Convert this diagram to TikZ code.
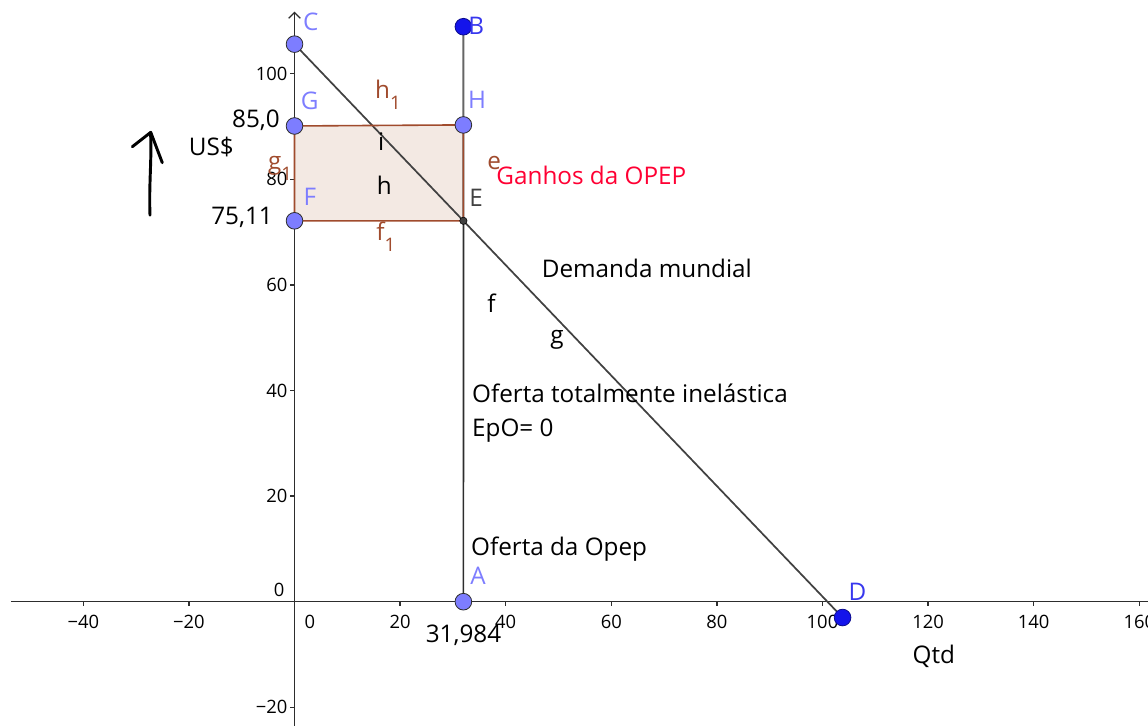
\documentclass[tikz,border=0pt]{standalone}
\usepackage{fontspec}
\setmainfont{Open Sans}
\usetikzlibrary{calc}
\definecolor{axisGray}{RGB}{45,45,45}
\definecolor{lineGray}{RGB}{65,65,65}
\definecolor{ptLight}{RGB}{125,125,255}
\definecolor{ptDark}{RGB}{20,20,235}
\definecolor{rectBrown}{RGB}{160,75,45}
\definecolor{rectFill}{RGB}{243,233,227}
\definecolor{gainRed}{RGB}{255,0,51}
\newcommand{\tickFont}[0]{\fontsize{13.8}{15}\selectfont}
\newcommand{\labFont}[0]{\fontsize{18.2}{21}\selectfont}
\newcommand{\idx}[2]{#1\raisebox{-0.45em}{\fontsize{14}{15}\selectfont #2}}
\newcommand{\tickNum}[1]{\ifnum#1<0 \textminus\number-#1\else#1\fi}

\begin{document}
\begin{tikzpicture}[x=3.96pt, y=3.96pt]
  \tikzset{every node/.style={font=\labFont, inner sep=0pt},
    axis/.style={draw=axisGray, line width=1pt},
    ticklab/.style={font=\tickFont, text=black},
    pointlight/.style={circle, fill=ptLight, draw=axisGray, line width=0.6pt, minimum size=12.5pt},
    pointdark/.style={circle, fill=ptDark, draw=ptDark!60!black, line width=0.6pt, minimum size=12.5pt},
    pointsmall/.style={circle, fill=lineGray, draw=black, line width=0.4pt, minimum size=5.5pt},
    brownlab/.style={text=rectBrown},
    hand/.style={draw=black, line width=2.2pt, line cap=round, line join=round}}
  \useasboundingbox (-55.78,-23.54) rectangle (161.65,113.96);

  \coordinate (x-min) at (-53.7,0);
  \coordinate (x-max) at (161.65,0);
  \coordinate (y-min) at (0,-23.54);
  \coordinate (y-max) at (0,111.6);
  \draw[axis] (x-min) -- (x-max);
  \draw[axis] (y-min) -- (y-max);
  \draw[axis] ($(y-max)+(-1.1,-1.1)$) -- (y-max) -- ($(y-max)+(1.1,-1.1)$);
  \foreach \x in {-40,-20,20,40,60,80,100,120,140,160} {
    \draw[axis] (\x,0) -- (\x,-0.8);
    \node[ticklab] (xtick-\x) at (\x,-3.9) {\tickNum{\x}};
  }
  \foreach \y in {-20,20,40,60,80,100} {
    \draw[axis] (0,\y) -- (-0.8,\y);
    \node[ticklab, anchor=east] (ytick-\y) at (-1.3,\y) {\tickNum{\y}};
  }
  \node[ticklab] (xtick-0) at (2.9,-3.9) {0};
  \node[ticklab] (ytick-0) at (-2.9,2.2) {0};

  \coordinate (C) at (0,105.6);
  \coordinate (D) at (103.8,-3.0);
  \coordinate (A) at (31.984,0);
  \coordinate (B) at (31.984,108.9);
  \coordinate (H) at (31.984,90.3);
  \coordinate (G) at (0,90.1);
  \coordinate (E) at ($(C)!{31.984/103.8}!(D)$);
  \coordinate (F) at (C |- E);

  \fill[rectFill] (G) -- (H) -- (E) -- (F) -- cycle;
  \draw[draw=gray!80!black, line width=1.6pt] (E) -- (B);
  \draw[draw=axisGray, line width=1.3pt] (A) -- (E);
  \draw[draw=lineGray, line width=1.3pt] (C) -- (D);
  \draw[draw=rectBrown, line width=1.2pt] (G) -- (H) -- (E) -- (F) -- cycle;

  \node[pointlight] (pt-C) at (C) {};
  \node[pointlight] (pt-G) at (G) {};
  \node[pointlight] (pt-H) at (H) {};
  \node[pointlight] (pt-F) at (F) {};
  \node[pointlight] (pt-A) at (A) {};
  \node[pointdark] (pt-B) at (B) {};
  \node[pointdark] (pt-D) at (D) {};
  \node[pointsmall] (pt-E) at (E) {};

  \node[text=ptLight] (lab-C) at (3.1,109.8) {C};
  \node[text=ptDark!85!white] (lab-B) at (34.4,109.0) {B};
  \node[text=ptLight] (lab-G) at (2.9,94.8) {G};
  \node[text=ptLight] (lab-H) at (34.6,95.0) {H};
  \node[text=ptLight] (lab-F) at (2.9,76.6) {F};
  \node[text=lineGray] (lab-E) at (34.4,76.4) {E};
  \node[text=ptLight] (lab-A) at (34.75,4.9) {A};
  \node[text=ptDark!85!white] (lab-D) at (106.6,1.8) {D};

  \node[anchor=east] (val-G) at (-2.75,91.2) {85,0};
  \node[anchor=east] (val-F) at (-4.07,72.8) {75,11};
  \node (val-A) at (32.0,-6.3) {31,984};
  \node (us) at (-15.76,86.2) {US\$};
  \node (qtd) at (121.1,-10.4) {Qtd};

  \node[brownlab] (lab-h1) at (17.7,96.0) {\idx{h}{1}};
  \node[brownlab] (lab-f1) at (17.3,69.2) {\idx{f}{1}};
  \node[brownlab] (lab-g1) at (-2.75,82.1) {\idx{g}{1}};
  \node[brownlab] (lab-e) at (37.8,83.0) {e};
  \node (lab-i) at (16.4,87.1) {i};
  \node (lab-h) at (17.0,78.9) {h};
  \node (lab-f) at (37.3,56.5) {f};
  \node (lab-g) at (49.7,49.6) {g};

  \node[text=gainRed, anchor=west] (ganhos) at (38.2,80.8) {Ganhos da OPEP};
  \node[anchor=west] (demanda) at (46.8,63.1) {Demanda mundial};
  \node[anchor=west] (oferta-inel) at (33.6,39.5) {Oferta totalmente inelástica};
  \node[anchor=west] (epo) at (33.6,32.4) {EpO= 0};
  \node[anchor=west] (oferta-opep) at (33.4,10.0) {Oferta da Opep};

  \draw[hand] (-27.37,73.2) .. controls (-27.6,79) and (-27.0,84) .. (-27.27,88.8);
  \draw[hand] (-30.72,86.17) -- (-27.23,88.9) -- (-25.04,83.14);
\end{tikzpicture}
\end{document}
